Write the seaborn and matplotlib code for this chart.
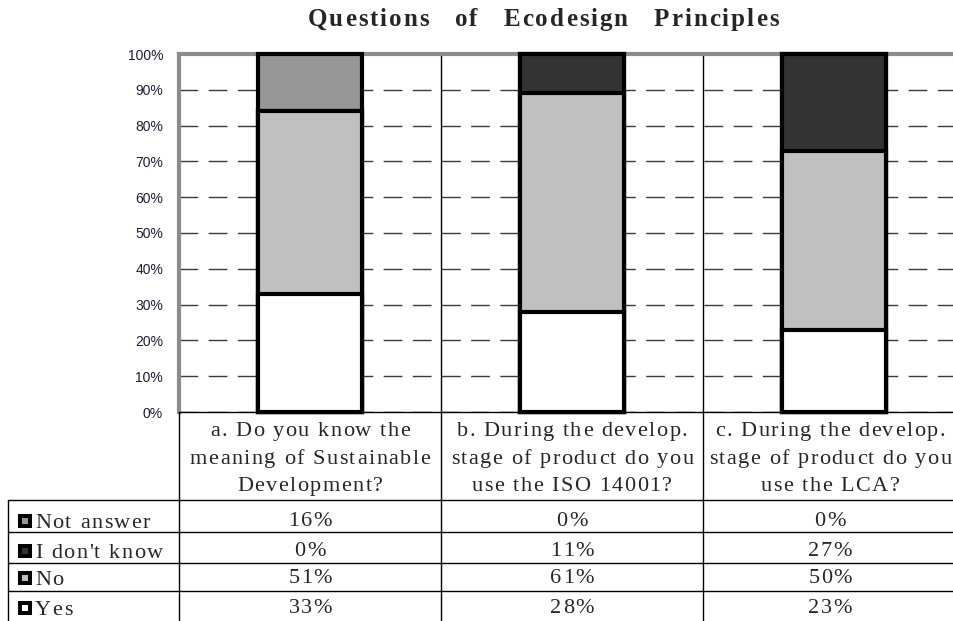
import numpy as np
import matplotlib
matplotlib.use("Agg")
import matplotlib.pyplot as plt
import seaborn as sns
from matplotlib.patches import Rectangle

questions = ["a. Do you know the\nmeaning of Sustainable\nDevelopment?",
             "b. During the develop.\nstage of product do you\nuse the ISO 14001?",
             "c. During the develop.\nstage of product do you\nuse the LCA?"]
keys = ["a", "b", "c"]
series = ["Not answer", "I don't know", "No", "Yes"]
not_answer = [16, 0, 0]
dont_know = [0, 11, 27]
no = [51, 61, 50]
yes = [33, 28, 23]
tick_vals = list(range(0, 101, 10))
tick_labels = [f"{v}%" for v in tick_vals]

colors = {"Not answer": "#969696", "I don't know": "#333333",
          "No": "#c0c0c0", "Yes": "#ffffff"}

sns.set_style("white")
plt.rcParams['font.family'] = ['Liberation Serif', 'DejaVu Sans']

W, H = 954, 621
fig = plt.figure(figsize=(W / 100, H / 100), dpi=100)

# plot area in pixels
left, right, top, bottom = 179, 965, 54, 412
ax = fig.add_axes([left / W, (H - bottom) / H, (right - left) / W, (bottom - top) / H])

# stacked bars: draw cumulative totals from the top layer down
cum_yes = np.array(yes)
cum_no = cum_yes + np.array(no)
cum_dk = cum_no + np.array(dont_know)
cum_na = cum_dk + np.array(not_answer)
for vals, name in [(cum_na, "Not answer"), (cum_dk, "I don't know"),
                   (cum_no, "No"), (cum_yes, "Yes")]:
    sns.barplot(x=keys, y=vals, color=colors[name], saturation=1, width=0.4,
                edgecolor="black", linewidth=3, errorbar=None, ax=ax,
                zorder=3, clip_on=False)

ax.set_xlim(-0.5, 2.5)
ax.set_ylim(0, 100)
ax.set_yticks(tick_vals)
ax.set_yticklabels(tick_labels, family="Liberation Sans", fontsize=10,
                   color="#1c1c38")
ax.set_xticks([])
ax.set_xlabel("")
ax.set_ylabel("")
ax.tick_params(axis="y", length=0, pad=11.5)
ax.grid(axis="y", color="#3a3a3a", linestyle=(0, (13.5, 7.5)), linewidth=1)
for xs in [0.5, 1.5]:
    ax.axvline(xs, color="black", lw=1, zorder=2)
ax.spines["right"].set_visible(False)
for s in ["left", "top"]:
    ax.spines[s].set_color("#8c8c8c")
    ax.spines[s].set_linewidth(3)
ax.spines["bottom"].set_color("black")
ax.spines["bottom"].set_linewidth(1)

# overlay in pixel coordinates for the data table and title
ov = fig.add_axes([0, 0, 1, 1])
ov.set_xlim(0, W)
ov.set_ylim(H, 0)
ov.axis("off")
ov.patch.set_alpha(0)

renderer = fig.canvas.get_renderer()


def tracked(text, x, y, track, ha="center", gap=None, **kw):
    # draw text letter by letter with a little extra spacing
    pieces = []
    for ch in text:
        if ch == " " and gap is not None:
            pieces.append((ch, gap))
            continue
        t = ov.text(0, 0, ch if ch != " " else "n", **kw)
        w = t.get_window_extent(renderer).width
        if ch == " ":
            w *= 0.5
        pieces.append((ch, w))
        t.remove()
    total = sum(w for _, w in pieces) + track * (len(pieces) - 1)
    x0 = x - total / 2 if ha == "center" else x
    for ch, w in pieces:
        if ch != " ":
            ov.text(x0, y, ch, ha="left", va="baseline", **kw)
        x0 += w + track


cw = (right - left) / 3
col_edges = [left + i * cw for i in range(4)]
col_centers = [left + (i + 0.5) * cw for i in range(3)]
col_centers[2] -= 4

for xc, q in zip(col_centers, questions):
    for k, line in enumerate(q.split("\n")):
        tracked(line, xc, 436 + 27.5 * k, 1.5, fontsize=16)

row_lines = [500, 532, 563, 591]
baselines = [527, 557, 584, 614]
for y in row_lines:
    ov.plot([8, W], [y, y], color="black", lw=1)
ov.plot([8, 8], [500, H], color="black", lw=1)
for x in col_edges[:3]:
    ov.plot([x, x], [bottom, H], color="black", lw=1)

table = [not_answer, dont_know, no, yes]
for name, vals, yb in zip(series, table, baselines):
    ov.add_patch(Rectangle((20, yb - 11), 10, 10, facecolor=colors[name],
                           edgecolor="black", lw=2.9))
    tracked(name, 35, yb + 1, 1.5, ha="left", fontsize=16)
    for xc, v in zip(col_centers, vals):
        tracked(f"{v}%", xc, yb - 1, 1.2, fontsize=16)

tracked("Questions of Ecodesign Principles", 543, 26, 2, gap=22,
        fontsize=18, fontweight="bold")

fig.savefig("out.png", dpi=100)
